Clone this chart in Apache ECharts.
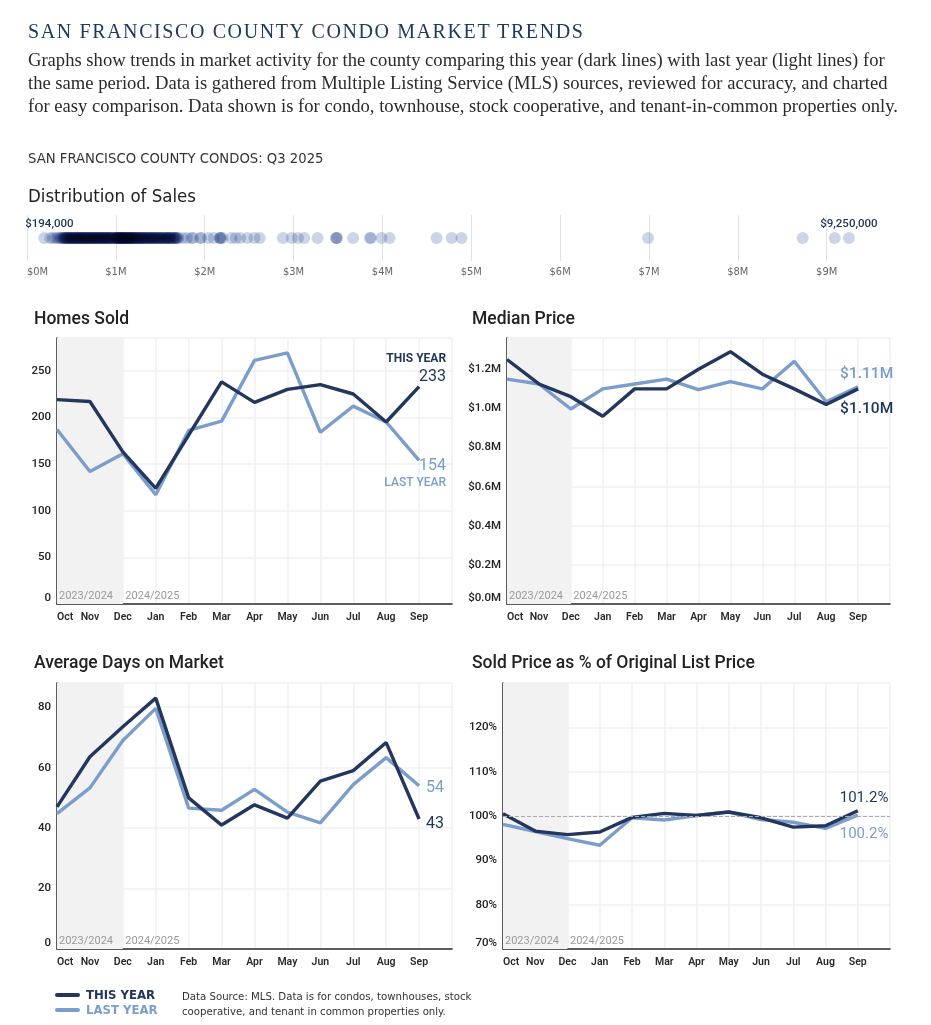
<!DOCTYPE html>
<html><head><meta charset="utf-8">
<script src="https://cdn.jsdelivr.net/npm/echarts@6/dist/echarts.min.js"></script>
<style>
html,body{margin:0;padding:0;background:#fff;width:931px;height:1025px;overflow:hidden;}
#chart{position:absolute;left:0;top:0;width:931px;height:1025px;}
.t{position:absolute;white-space:nowrap;}
#title{left:28px;top:20px;font-family:"Liberation Serif","DejaVu Serif",serif;font-size:20px;line-height:22px;letter-spacing:1.6px;color:#1e3a63;}
#para{left:28px;top:48px;font-family:"Liberation Serif","DejaVu Serif",serif;font-size:18.6px;line-height:23px;color:#2b2b2b;}
#sub{left:28px;top:150px;font-family:"Liberation Sans Narrow","DejaVu Sans Condensed",sans-serif;font-size:14.7px;line-height:16px;color:#333;}
.lg{position:absolute;width:25px;height:4px;border-radius:2px;}
.lt{position:absolute;font-family:"Liberation Sans Narrow","DejaVu Sans Condensed",sans-serif;font-size:13px;line-height:14px;font-weight:bold;white-space:nowrap;}
#foot{left:182px;top:989px;font-family:"Liberation Sans Narrow","DejaVu Sans Condensed",sans-serif;font-size:11.3px;line-height:15px;color:#333;}
</style></head>
<body>
<div id="chart"></div>
<div class="t" id="title">SAN FRANCISCO COUNTY CONDO MARKET TRENDS</div>
<div class="t" id="para">Graphs show trends in market activity for the county comparing this year (dark lines) with last year (light lines) for<br>the same period. Data is gathered from Multiple Listing Service (MLS) sources, reviewed for accuracy, and charted<br>for easy comparison. Data shown is for condo, townhouse, stock cooperative, and tenant-in-common properties only.</div>
<div class="t" id="sub">SAN FRANCISCO COUNTY CONDOS: Q3 2025</div>
<div class="lg" style="left:55px;top:993px;background:#22365e"></div>
<div class="lt" style="left:86px;top:988px;color:#22365e">THIS YEAR</div>
<div class="lg" style="left:55px;top:1008px;background:#7b9dcb"></div>
<div class="lt" style="left:86px;top:1003px;color:#7b9dcb">LAST YEAR</div>
<div class="t" id="foot">Data Source: MLS. Data is for condos, townhouses, stock<br>cooperative, and tenant in common properties only.</div>
<script>
const months = ['Oct','Nov','Dec','Jan','Feb','Mar','Apr','May','Jun','Jul','Aug','Sep'];
const homesThis = [219,217,163,124,181,238,216,230,235,225,195,233];
const homesLast = [187,142,161,117,186,196,261,269,184,212,195,154];
const priceThis = [1.25,1.125,1.06,0.96,1.10,1.10,1.20,1.29,1.175,1.10,1.02,1.10];
const priceLast = [1.15,1.125,0.997,1.10,1.125,1.15,1.096,1.137,1.10,1.241,1.034,1.11];
const domThis = [47,63.6,73.5,83,50,41,47.7,43.3,55.5,59,68.3,43];
const domLast = [44.8,53.3,69,79.6,46.6,45.9,52.8,45.3,41.7,54.4,63.3,54];
const pctThis = [100.5,96.6,95.8,96.4,99.7,100.6,100.1,100.9,99.6,97.5,97.8,101.2];
const pctLast = [98.1,96.5,94.9,93.4,99.6,99.1,100.1,100.9,99.2,98.6,97.2,100.2];
const seasonLabels = ['2023/2024','2024/2025'];
const salePricesK = [194,260,290,320,345,365,380,395,405,412,420,428,435,440,448,455,460,468,475,480,488,495,499,505,512,518,525,532,540,545,550,558,565,570,578,585,590,595,599,605,612,618,625,630,638,645,649,655,662,668,675,680,688,695,699,705,712,718,725,730,738,745,749,755,762,768,775,780,788,795,799,805,812,818,825,830,838,845,849,855,862,868,875,880,888,895,899,905,912,918,925,930,938,945,949,955,965,975,980,990,999,1003,1005,1012,1015,1022,1025,1030,1036,1040,1046,1050,1055,1060,1064,1068,1072,1075,1080,1085,1090,1095,1100,1105,1110,1115,1118,1125,1130,1135,1140,1145,1150,1155,1160,1165,1168,1175,1180,1185,1190,1195,1200,1205,1210,1220,1225,1230,1235,1240,1250,1255,1260,1270,1275,1280,1290,1295,1299,1310,1315,1320,1330,1335,1345,1350,1360,1365,1375,1380,1390,1395,1400,1410,1415,1425,1430,1440,1445,1455,1460,1470,1475,1490,1495,1499,1510,1515,1525,1530,1545,1550,1560,1565,1575,1580,1590,1595,1605,1610,1620,1630,1640,1650,1660,1665,1675,1680,1695,1700,1750,1800,1850,1870,1950,1960,2040,2100,2170,2170,2180,2200,2300,2350,2400,2480,2560,2620,2880,2980,3050,3120,3270,3480,3480,3490,3670,3860,3870,3990,4080,4610,4780,4890,6990,8730,9090,9250];

const DARK = '#22365e', LIGHT = '#7b9dcb';
const FONT = 'Roboto, "Liberation Sans", sans-serif';
const NARROW = '"Liberation Sans Narrow","DejaVu Sans Condensed",sans-serif';
const xCats = months.concat(['']);
const grids = [
  {left:27, top:215, width:853, height:46},
  {left:57, top:338, width:395, height:266},
  {left:507, top:338, width:383, height:266},
  {left:57, top:683, width:395, height:266},
  {left:503, top:683, width:387, height:266}
].map(g => Object.assign({outerBoundsMode:'none', containLabel:false}, g));

function catAxis(gi){
  return {type:'category', gridIndex:gi, data:xCats, boundaryGap:false,
    axisLine:{show:true, lineStyle:{color:'#2a2a2a', width:1.5}},
    axisTick:{show:false},
    axisLabel:{interval:0, margin:8, color:'#2a2a2a', fontFamily:FONT, fontSize:10.5, fontWeight:600, alignMinLabel:'left'},
    splitLine:{show:true, interval:0, lineStyle:{color:'#f0f0f0', width:1.5}}};
}
function valAxis(gi, min, max, interval, fmt){
  return {type:'value', gridIndex:gi, min, max, interval,
    axisLine:{show:true, lineStyle:{color:'#2a2a2a', width:1.5}},
    axisTick:{show:false},
    axisLabel:{margin:6, color:'#222', fontFamily:FONT, fontSize:11.5, fontWeight:500, showMaxLabel:false, verticalAlignMinLabel:'bottom', formatter:fmt},
    splitLine:{show:true, lineStyle:{color:'#f0f0f0', width:1.5}}};
}
function shade(){
  return {silent:true, itemStyle:{color:'#f2f2f2'}, label:{show:false}, data:[[{xAxis:'Oct'},{xAxis:'Dec'}]]};
}
function line(gi, data, color, z, withShade, extra){
  const s = {type:'line', xAxisIndex:gi, yAxisIndex:gi, data, symbol:'none', z,
    lineStyle:{color, width:3.4}, itemStyle:{color}, emphasis:{disabled:true}};
  if (withShade) s.markArea = shade();
  return Object.assign(s, extra||{});
}
const titleStyle = {color:'#222', fontFamily:FONT, fontSize:17.5, fontWeight:500};
const option = {
  animation:false,
  backgroundColor:'#fff',
  title:[
    {text:'Distribution of Sales', left:28, top:188, padding:0, textStyle:{color:'#222', fontFamily:NARROW, fontSize:18.5, fontWeight:'normal'}},
    {text:'Homes Sold', left:34, top:311, padding:0, textStyle:titleStyle},
    {text:'Median Price', left:472, top:311, padding:0, textStyle:titleStyle},
    {text:'Average Days on Market', left:34, top:655, padding:0, textStyle:titleStyle},
    {text:'Sold Price as % of Original List Price', left:472, top:655, padding:0, textStyle:titleStyle}
  ],
  grid:grids,
  xAxis:[
    {type:'value', gridIndex:0, min:0, max:9.6, interval:1,
      axisLine:{show:false}, axisTick:{show:false},
      axisLabel:{margin:6, color:'#666', fontFamily:NARROW, fontSize:11, showMaxLabel:false, alignMinLabel:'left', formatter:v => '$' + v + 'M'},
      splitLine:{show:true, showMaxLine:false, lineStyle:{color:'#e2e2e2', width:1}}},
    catAxis(1), catAxis(2), catAxis(3), catAxis(4)
  ],
  yAxis:[
    {type:'value', gridIndex:0, min:0, max:1, show:false, splitLine:{show:false}},
    valAxis(1, 0, 285, 50, v => String(v)),
    valAxis(2, 0, 1.36, 0.2, v => '$' + v.toFixed(1) + 'M'),
    valAxis(3, 0, 88, 20, v => String(v)),
    valAxis(4, 70, 130, 10, v => v + '%')
  ],
  series:[
    {type:'scatter', xAxisIndex:0, yAxisIndex:0, symbolSize:12, blendMode:'multiply',
      data:salePricesK.map(v => [v/1000, 0.5]),
      itemStyle:{color:'#ccd5e8', opacity:1}, emphasis:{disabled:true}},
    line(1, homesLast, LIGHT, 2, true),
    line(1, homesThis, DARK, 3, false),
    line(2, priceLast, LIGHT, 2, true),
    line(2, priceThis, DARK, 3, false),
    line(3, domLast, LIGHT, 2, true),
    line(3, domThis, DARK, 3, false),
    line(4, pctLast, LIGHT, 2, true, {markLine:{silent:true, symbol:'none', label:{show:false},
      lineStyle:{color:'#aaaaaa', type:'dashed', width:1}, data:[{yAxis:100}]}}),
    line(4, pctThis, DARK, 3, false)
  ]
};
const chart = echarts.init(document.getElementById('chart'), null, {renderer:'canvas'});
chart.setOption(option);

// annotation labels, positioned from the library's scales
const last = months.length - 1;
function px(gi, v){ return chart.convertToPixel({gridIndex:gi}, [last, v]); }
function txt(x, y, text, color, size, weight, align){
  return {type:'text', x, y, z:100, style:{text, fill:color, font:(weight||'normal') + ' ' + size + 'px ' + FONT, align:align||'left', verticalAlign:'middle'}};
}
const els = [];
let p, q;
p = px(1, homesThis[last]); q = px(1, homesLast[last]);
els.push(txt(p[0]+27, p[1]-28, 'THIS YEAR', '#1f3556', 12, 'bold', 'right'));
els.push(txt(p[0]+27, p[1]-10, String(homesThis[last]), '#1f3556', 16, 'normal', 'right'));
els.push(txt(q[0]+27, q[1]+6, String(homesLast[last]), LIGHT, 16, 'normal', 'right'));
els.push(txt(q[0]+27, q[1]+23, 'LAST YEAR', LIGHT, 12, '500', 'right'));
p = px(2, priceThis[last]); q = px(2, priceLast[last]);
els.push(txt(p[0]-18, p[1]+20, '$' + priceThis[last].toFixed(2) + 'M', '#1f3556', 15.5, '500'));
els.push(txt(q[0]-18, q[1]-13, '$' + priceLast[last].toFixed(2) + 'M', LIGHT, 15.5, '500'));
p = px(3, domThis[last]); q = px(3, domLast[last]);
els.push(txt(p[0]+7, p[1]+5, String(domThis[last]), '#1f3556', 16, 'normal'));
els.push(txt(q[0]+7, q[1]+2, String(domLast[last]), LIGHT, 16, 'normal'));
p = px(4, pctThis[last]); q = px(4, pctLast[last]);
els.push(txt(p[0]-18, p[1]-12, pctThis[last].toFixed(1) + '%', '#1f3556', 15, 'normal'));
els.push(txt(q[0]-18, q[1]+19, pctLast[last].toFixed(1) + '%', LIGHT, 15, 'normal'));
// season labels at the bottom of each line chart
[1,2,3,4].forEach(gi => {
  const o = chart.convertToPixel({gridIndex:gi}, [0, 0]);
  const d = chart.convertToPixel({gridIndex:gi}, [2, 0]);
  const yb = grids[gi].top + grids[gi].height - 8;
  els.push(txt(o[0]+2, yb, seasonLabels[0], '#9a9a9a', 11, 'normal'));
  els.push(txt(d[0]+2.5, yb, seasonLabels[1], '#9a9a9a', 11, 'normal'));
});
const mn = Math.min(...salePricesK), mx = Math.max(...salePricesK);
const a = chart.convertToPixel({gridIndex:0}, [mn/1000, 0.5]);
const b = chart.convertToPixel({gridIndex:0}, [mx/1000, 0.5]);
els.push(txt(Math.max(25, a[0]-19), a[1]-14, '$' + (mn*1000).toLocaleString('en-US'), '#1f3556', 11.5, '500'));
els.push(txt(b[0], b[1]-14, '$' + (mx*1000).toLocaleString('en-US'), '#1f3556', 11.5, '500', 'center'));
chart.setOption({graphic:els});
</script>
</body></html>
